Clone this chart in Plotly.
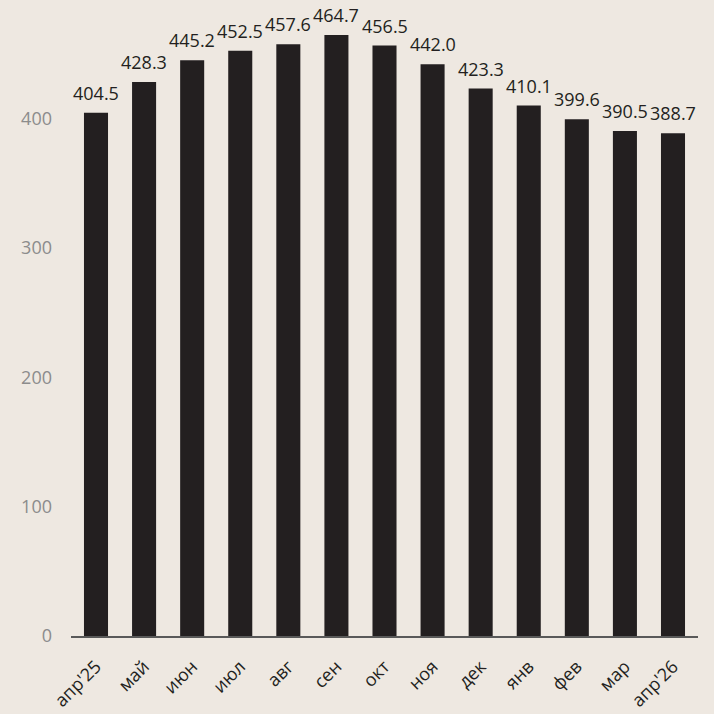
import plotly.graph_objects as go

categories = ["апр'25", "май", "июн", "июл", "авг", "сен", "окт", "ноя", "дек", "янв", "фев", "мар", "апр'26"]
values = [404.5, 428.3, 445.2, 452.5, 457.6, 464.7, 456.5, 442.0, 423.3, 410.1, 399.6, 390.5, 388.7]
y_ticks = [0, 100, 200, 300, 400]

bg = "#EEE8E1"
bar_color = "#231F20"

fig = go.Figure(go.Bar(
    x=categories,
    y=values,
    marker=dict(color=bar_color, line=dict(width=0)),
    hoverinfo="skip",
))

for c, v in zip(categories, values):
    fig.add_annotation(
        x=c, y=v, text=f"{v:.1f}", showarrow=False,
        xanchor="center", yanchor="bottom", yshift=6,
        font=dict(family="Open Sans", size=18, color=bar_color),
    )

fig.update_layout(
    width=714, height=714,
    paper_bgcolor=bg, plot_bgcolor=bg,
    margin=dict(l=71, r=16, t=10, b=78),
    bargap=0.5,
    showlegend=False,
    font=dict(family="Open Sans"),
)
fig.update_xaxes(
    showgrid=False, showline=True, linecolor="#595959", linewidth=2,
    ticks="", tickangle=-45, ticklabelstandoff=11, automargin=False,
    tickfont=dict(family="Open Sans", size=18, color=bar_color),
)
fig.update_yaxes(
    range=[0, 484], showgrid=False, zeroline=False, showline=False,
    tickvals=y_ticks, ticks="", automargin=False,
    tickfont=dict(family="Open Sans", size=18, color="#8C8C8C"),
    ticklabelstandoff=18,
)

fig.write_html(
    "out.html",
    config={"displayModeBar": False},
    post_script="document.body.style.margin='0';document.body.style.background='#EEE8E1';document.body.style.overflow='hidden';",
)
